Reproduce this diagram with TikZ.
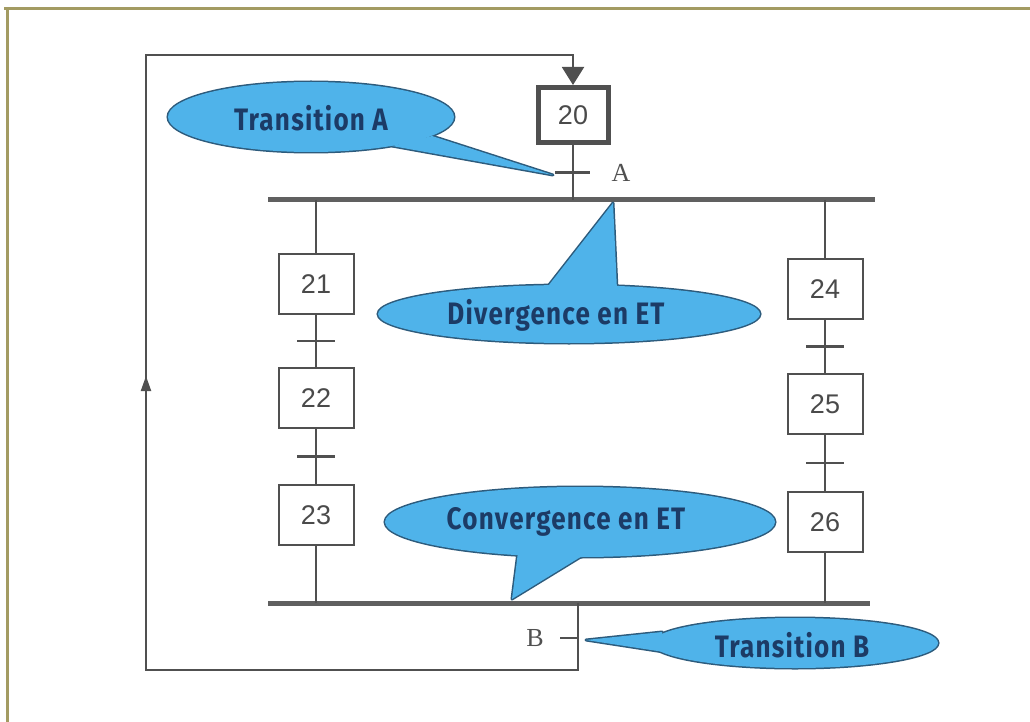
\documentclass[tikz,border=0pt]{standalone}
\usepackage{fontspec}
\usetikzlibrary{arrows.meta,decorations.markings,calc}
\newfontfamily\callfont[FakeStretch=0.84,LetterSpace=4]{Fira Sans}
\newfontfamily\numfont{Liberation Sans}
\newfontfamily\labfont{Liberation Serif}

\definecolor{frameol}{HTML}{A39B62}
\definecolor{wire}{HTML}{505050}
\definecolor{barc}{HTML}{606060}
\definecolor{bubfill}{HTML}{4FB3EA}
\definecolor{bubline}{HTML}{2D5B7C}
\definecolor{bubtext}{HTML}{1C3B66}
\definecolor{numc}{HTML}{4A4A4A}

\tikzset{
  stepbox/.style={draw=wire, line width=2, fill=white, minimum width=75,
    minimum height=60, inner sep=0, text=numc,
    font=\numfont\fontsize{27}{27}\selectfont},
  initbox/.style={stepbox, line width=5, minimum width=70, minimum height=55},
  link/.style={draw=wire, line width=2},
  tick/.style={draw=wire, line width=2.5},
  bar/.style={draw=barc, line width=5},
  bubedge/.style={draw=bubline, line width=3},
  bubbody/.style={fill=bubfill},
  bubtxt/.style={text=bubtext, inner sep=0,
    font=\callfont\bfseries\fontsize{31}{31}\selectfont},
  lab/.style={text=wire, inner sep=0, font=\labfont\fontsize{26}{26}\selectfont},
}

\begin{document}
\begin{tikzpicture}[x=1pt,y=-1pt]
\useasboundingbox (0,0) rectangle (1030,722);

% page frame (top and left edges)
\draw[frameol, line width=2.5] (4,8.3) -- (1030,8.3);
\draw[frameol, line width=2.5] (7.5,8) -- (7.5,722);

% steps
\node[initbox]  (s20) at (573,115) {20};
\node[stepbox]  (s21) at (316,284) {21};
\node[stepbox]  (s22) at (316,398) {22};
\node[stepbox]  (s23) at (316,515) {23};
\node[stepbox]  (s24) at (825,289) {24};
\node[stepbox]  (s25) at (825,404) {25};
\node[stepbox]  (s26) at (825,522) {26};

% synchronisation bars
\coordinate (dL) at (268,200);
\coordinate (dR) at (875,200);
\coordinate (cL) at (268,603);
\coordinate (cR) at (870,603);
\draw[bar] (dL) -- (dR);
\draw[bar] (cL) -- (cR);

% links from step 20 to the divergence bar, transition A
\coordinate (dA) at (573,200);
\draw[link] (s20.south) -- (dA);
\coordinate (tA) at ($(s20.south)!0.5!(dA)$);
\draw[tick] ($(tA)+(-18,0)$) -- ($(tA)+(17,0)$);
\node[lab] (labA) at (621,173) {A};

% left branch
\draw[link] (s21.north |- dL) -- (s21.north);
\draw[link] (s21.south) -- (s22.north);
\draw[link] (s22.south) -- (s23.north);
\draw[link] (s23.south) -- (s23.south |- cL);
\foreach \a/\b in {s21/s22, s22/s23}{
  \coordinate (m) at ($(\a.south)!0.5!(\b.north)$);
  \draw[tick] ($(m)+(-19,0)$) -- ($(m)+(19,0)$);
}

% right branch
\draw[link] (s24.north |- dL) -- (s24.north);
\draw[link] (s24.south) -- (s25.north);
\draw[link] (s25.south) -- (s26.north);
\draw[link] (s26.south) -- (s26.south |- cR);
\foreach \a/\b in {s24/s25, s25/s26}{
  \coordinate (m) at ($(\a.south)!0.5!(\b.north)$);
  \draw[tick] ($(m)+(-19,0)$) -- ($(m)+(19,0)$);
}

% transition B and loop back to step 20
\coordinate (cB) at (578,603);
\coordinate (lB) at (578,670);
\coordinate (lL) at (146,670);
\coordinate (tL) at (146,55);
\coordinate (tT) at (573,55);
\draw[link, -{Triangle[length=18,width=22]},
  postaction={decorate},
  decoration={markings, mark=at position 793pt with
    {\arrow{Triangle[length=15,width=10]}}}]
  (cB) -- (lB) -- (lL) -- (tL) -- (tT) -- (s20.north);
\draw[tick] (560,638) -- (578,638);
\node[lab] (labB) at (535,638) {B};

% callout: Transition A
\draw[bubedge] (311,117) ellipse [x radius=143, y radius=35];
\draw[bubedge, line join=round] (392,146) -- (553,175) -- (432,136) -- cycle;
\fill[bubbody] (311,117) ellipse [x radius=143, y radius=35];
\fill[bubbody] (392,146) -- (553,175) -- (432,136) -- cycle;
\node[bubtxt] (cA) at (311,118) {Transition A};

% callout: Divergence en ET
\draw[bubedge] (569,314) ellipse [x radius=191, y radius=29];
\draw[bubedge, line join=round] (545,290) -- (613,203) -- (617,290) -- cycle;
\fill[bubbody] (569,314) ellipse [x radius=191, y radius=29];
\fill[bubbody] (545,290) -- (613,203) -- (617,290) -- cycle;
\node[bubtxt] (cD) at (556,315) {Divergence en ET};

% callout: Convergence en ET
\draw[bubedge] (580,522) ellipse [x radius=195, y radius=35];
\draw[bubedge, line join=round] (518,552) -- (512,599) -- (592,550) -- cycle;
\fill[bubbody] (580,522) ellipse [x radius=195, y radius=35];
\fill[bubbody] (518,552) -- (512,599) -- (592,550) -- cycle;
\node[bubtxt] (cC) at (566,522) {Convergence en ET};

% callout: Transition B
\draw[bubedge] (795,643) ellipse [x radius=143, y radius=25];
\draw[bubedge, line join=round] (662,632) -- (586,640) -- (664,652) -- cycle;
\fill[bubbody] (795,643) ellipse [x radius=143, y radius=25];
\fill[bubbody] (662,632) -- (586,640) -- (664,652) -- cycle;
\node[bubtxt] (cB2) at (792,645) {Transition B};
\end{tikzpicture}
\end{document}
